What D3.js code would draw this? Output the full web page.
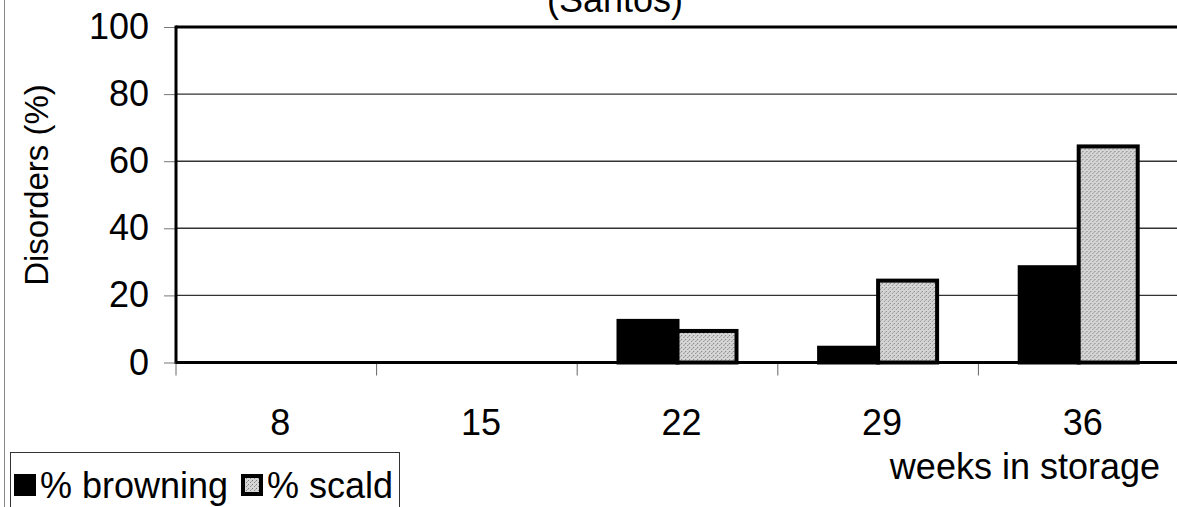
<!DOCTYPE html>
<html>
<head>
<meta charset="utf-8">
<script src="https://cdn.jsdelivr.net/npm/d3@7"></script>
<style>
  body { margin: 0; background: #fff; }
  text { font-family: "Liberation Sans", Arial, sans-serif; fill: #000; }
</style>
</head>
<body>
<div id="wrapper"></div>
<script>
// data
const weeks = ["8", "15", "22", "29", "36"]
const seriesNames = ["% browning", "% scald"]
const browning = [0, 0, 13, 5, 29]
const scald = [0, 0, 10, 25, 65]
const yTicks = [0, 20, 40, 60, 80, 100]

function drawChart() {

    //1. data rows
    const dataSet = weeks.map((w, i) => ({ week: w, values: [browning[i], scald[i]] }))

    //2. dimensions
    let dimensions = {
        width: 1177,
        height: 507,
        margin: {
            top: 27,
            right: -2,
            bottom: 144.5,
            left: 176
        }
    }
    dimensions.boundedWidth = dimensions.width
        - dimensions.margin.left
        - dimensions.margin.right
    dimensions.boundedHeight = dimensions.height
        - dimensions.margin.top
        - dimensions.margin.bottom

    //3. svg
    const wrapper = d3.select("#wrapper")
        .append("svg")
        .attr("width", dimensions.width)
        .attr("height", dimensions.height)

    // stippled grey for scald
    const pattern = wrapper.append("defs").append("pattern")
        .attr("id", "stipple")
        .attr("width", 4)
        .attr("height", 4)
        .attr("patternUnits", "userSpaceOnUse")
    pattern.append("rect").attr("width", 4).attr("height", 4).attr("fill", "#d6d6d6")
    pattern.append("rect").attr("x", 0).attr("y", 0).attr("width", 1).attr("height", 1).attr("fill", "#7a7a7a")
    pattern.append("rect").attr("x", 2).attr("y", 2).attr("width", 1).attr("height", 1).attr("fill", "#8a8a8a")
    pattern.append("rect").attr("x", 3).attr("y", 1).attr("width", 1).attr("height", 1).attr("fill", "#a8a8a8")

    // outer chart frame edge on the left
    wrapper.append("line")
        .attr("x1", 4.5).attr("x2", 4.5)
        .attr("y1", 0).attr("y2", dimensions.height)
        .attr("stroke", "#888")
        .attr("stroke-width", 1)

    const bounds = wrapper.append("g")
        .attr("transform", `translate(${dimensions.margin.left},${dimensions.margin.top})`)

    //4. scales
    const yScale = d3.scaleLinear()
        .domain([0, 100])
        .range([dimensions.boundedHeight, 0])

    const xScale = d3.scaleBand()
        .domain(weeks)
        .range([0, dimensions.boundedWidth])
        .paddingInner(0)
        .paddingOuter(0)

    const seriesScale = d3.scaleBand()
        .domain(d3.range(seriesNames.length))
        .range([0, xScale.bandwidth()])
        .paddingInner(0)
        .paddingOuter(0.7)

    const fills = ["#000", "url(#stipple)"]

    //5. gridlines
    bounds.append("g")
        .selectAll("line")
        .data(yTicks.filter(t => t > 0 && t < 100))
        .join("line")
        .attr("x1", 0)
        .attr("x2", dimensions.boundedWidth)
        .attr("y1", d => yScale(d))
        .attr("y2", d => yScale(d))
        .attr("stroke", "#333")
        .attr("stroke-width", 1.4)

    // top edge of plot
    bounds.append("line")
        .attr("x1", 0).attr("x2", dimensions.boundedWidth)
        .attr("y1", yScale(100)).attr("y2", yScale(100))
        .attr("stroke", "#000")
        .attr("stroke-width", 3)

    //6. bars
    const groups = bounds.selectAll(".cat")
        .data(dataSet)
        .join("g")
        .attr("class", "cat")
        .attr("transform", d => `translate(${xScale(d.week)},0)`)

    groups.selectAll("rect")
        .data(d => d.values.map((v, i) => ({ v, i })).filter(e => e.v > 0))
        .join("rect")
        .attr("x", d => seriesScale(d.i))
        .attr("y", d => yScale(d.v) + 2)
        .attr("width", seriesScale.bandwidth())
        .attr("height", d => yScale(0) - yScale(d.v) - 2)
        .attr("fill", d => fills[d.i])
        .attr("stroke", "#000")
        .attr("stroke-width", 4)

    //7. axes
    const yAxisGenerator = d3.axisLeft(yScale)
        .tickValues(yTicks)
        .tickSize(12)
        .tickPadding(15)
    const yAxis = bounds.append("g").call(yAxisGenerator)
    yAxis.select(".domain").remove()
    yAxis.selectAll(".tick line").attr("stroke", "#777").attr("stroke-width", 1)
    yAxis.selectAll(".tick text")
        .style("font-size", "36px")
        .attr("font-family", null)

    bounds.append("line")
        .attr("x1", 0).attr("x2", 0)
        .attr("y1", yScale(100) - 1.5).attr("y2", yScale(0) + 1.5)
        .attr("stroke", "#000")
        .attr("stroke-width", 3)

    // category boundary ticks
    const boundaries = weeks.map(w => xScale(w))
    bounds.append("g")
        .selectAll("line")
        .data(boundaries)
        .join("line")
        .attr("x1", d => d).attr("x2", d => d)
        .attr("y1", dimensions.boundedHeight)
        .attr("y2", dimensions.boundedHeight + 13)
        .attr("stroke", "#666")
        .attr("stroke-width", 1)

    bounds.append("line")
        .attr("x1", 0).attr("x2", dimensions.boundedWidth)
        .attr("y1", yScale(0)).attr("y2", yScale(0))
        .attr("stroke", "#000")
        .attr("stroke-width", 3)

    bounds.append("g")
        .selectAll("text")
        .data(weeks)
        .join("text")
        .attr("x", d => xScale(d) + xScale.bandwidth() / 2 + 4)
        .attr("y", dimensions.boundedHeight + 72.5)
        .attr("text-anchor", "middle")
        .style("font-size", "36px")
        .text(d => d)

    //8. titles
    wrapper.append("text")
        .attr("x", 615)
        .attr("y", 12)
        .attr("text-anchor", "middle")
        .style("font-size", "36px")
        .text("(Santos)")

    wrapper.append("text")
        .attr("transform", "translate(48,185) rotate(-90)")
        .attr("text-anchor", "middle")
        .style("font-size", "33px")
        .text("Disorders (%)")

    wrapper.append("text")
        .attr("x", 1160)
        .attr("y", 479)
        .attr("text-anchor", "end")
        .style("font-size", "36px")
        .text("weeks in storage")

    //9. legend
    const legend = wrapper.append("g")
    legend.append("rect")
        .attr("x", 10.5).attr("y", 452.5)
        .attr("width", 389).attr("height", 70)
        .attr("fill", "#fff")
        .attr("stroke", "#333")
        .attr("stroke-width", 1)

    const legendX = [14, 241]
    seriesNames.forEach((name, i) => {
        legend.append("rect")
            .attr("x", legendX[i] + 2)
            .attr("y", 476)
            .attr("width", 18)
            .attr("height", 18)
            .attr("fill", fills[i])
            .attr("stroke", "#000")
            .attr("stroke-width", 4)
        legend.append("text")
            .attr("x", legendX[i] + 26)
            .attr("y", 498)
            .style("font-size", "36px")
            .text(name)
    })
}
drawChart()
</script>
</body>
</html>
